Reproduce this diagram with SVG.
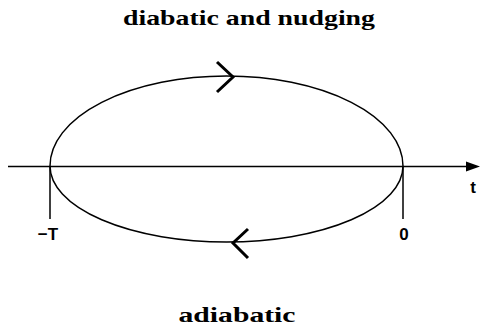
<svg xmlns="http://www.w3.org/2000/svg" width="480" height="331" viewBox="0 0 480 331">
<style>
.ln{fill:none;stroke:#000;stroke-width:1.5}
.th{fill:none;stroke:#000;stroke-width:3}
.tl{font-family:"Liberation Serif",serif;font-weight:bold;font-size:21px;fill:#000}
.lb{font-family:"Liberation Sans",sans-serif;font-weight:bold;font-size:17px;fill:#000}
</style>
<rect width="480" height="331" fill="#fff"/>
<g id="connectors">
<path class="ln" d="M8,166.5 L470,166.5"/>
<polygon points="480,166.5 466,161.5 466,171.5" fill="#000"/>
<path class="ln" d="M50,166 A176.5,90 0 0 1 403,166"/>
<path class="ln" d="M50,166 A176.5,76 0 0 0 403,166"/>
<path class="ln" d="M50,166 L50,219"/>
<path class="ln" d="M403,166 L403,219"/>
<path class="th" d="M217,62 L233,77 L217,92"/>
<path class="th" d="M248,229 L233,243 L248,258"/>
</g>
<g id="labels">
<text class="tl" x="249" y="25" text-anchor="middle" textLength="252" lengthAdjust="spacingAndGlyphs">diabatic and nudging</text>
<text class="tl" x="237" y="322" text-anchor="middle" textLength="117" lengthAdjust="spacingAndGlyphs">adiabatic</text>
<text class="lb" x="48" y="240" text-anchor="middle">−T</text>
<text class="lb" x="404" y="240" text-anchor="middle">0</text>
<text class="lb" x="473" y="193" text-anchor="middle">t</text>
</g>
</svg>
